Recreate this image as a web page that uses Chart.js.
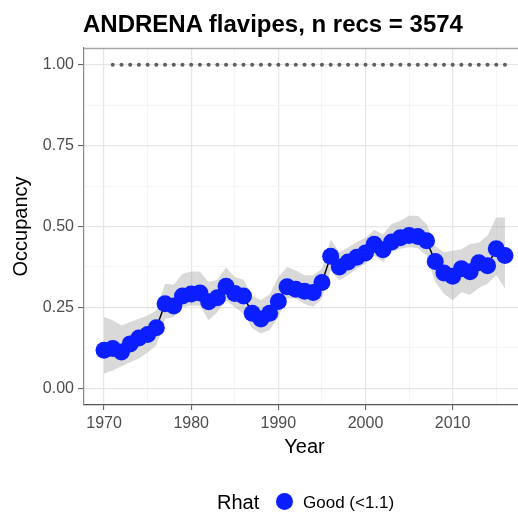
<!DOCTYPE html>
<html>
<head>
<meta charset="utf-8">
<script src="https://cdn.jsdelivr.net/npm/chart.js@4/dist/chart.umd.min.js"></script>
<style>
  html, body { margin:0; padding:0; width:518px; height:512px; overflow:hidden; background:#fff; }
  #wrap { position:absolute; left:0; top:0; width:525px; height:512px; }
  .txt { position:absolute; font-family:"Liberation Sans", Arial, sans-serif; white-space:nowrap; }
  #title { left:83px; top:12px; font-size:24px; line-height:24px; font-weight:bold; color:#000; }
  #legTitle { left:217px; top:492px; font-size:20px; line-height:20px; color:#000; }
  #legDot { position:absolute; left:276px; top:493px; width:17px; height:17px; border-radius:50%; background:#0a1eff; }
  #legText { left:303px; top:494px; font-size:17px; line-height:17px; color:#000; }
</style>
</head>
<body>
<div id="wrap"><canvas id="c" width="525" height="512"></canvas></div>
<div id="title" class="txt">ANDRENA flavipes, n recs = 3574</div>
<div id="legTitle" class="txt">Rhat</div>
<div id="legDot"></div>
<div id="legText" class="txt">Good (&lt;1.1)</div>
<script>
// ---- data ----
const years = [1970,1971,1972,1973,1974,1975,1976,1977,1978,1979,1980,1981,1982,1983,1984,1985,1986,1987,1988,1989,1990,1991,1992,1993,1994,1995,1996,1997,1998,1999,2000,2001,2002,2003,2004,2005,2006,2007,2008,2009,2010,2011,2012,2013,2014,2015,2016];
const occupancy = [0.117,0.123,0.112,0.137,0.155,0.166,0.187,0.261,0.254,0.285,0.291,0.294,0.267,0.280,0.315,0.293,0.285,0.232,0.214,0.232,0.268,0.314,0.306,0.300,0.296,0.327,0.408,0.375,0.390,0.405,0.418,0.445,0.428,0.452,0.465,0.472,0.469,0.456,0.392,0.356,0.346,0.369,0.360,0.388,0.379,0.431,0.410];
const lowerCI = [0.045,0.055,0.068,0.080,0.092,0.110,0.133,0.215,0.220,0.250,0.256,0.255,0.210,0.235,0.272,0.250,0.230,0.185,0.169,0.180,0.220,0.277,0.277,0.260,0.252,0.277,0.364,0.333,0.350,0.369,0.385,0.410,0.390,0.420,0.431,0.436,0.433,0.410,0.328,0.292,0.272,0.297,0.289,0.310,0.323,0.350,0.308];
const upperCI = [0.220,0.210,0.194,0.205,0.215,0.225,0.240,0.323,0.320,0.354,0.361,0.360,0.328,0.335,0.374,0.344,0.335,0.287,0.272,0.290,0.344,0.375,0.364,0.349,0.349,0.369,0.460,0.420,0.435,0.452,0.465,0.490,0.475,0.508,0.518,0.533,0.533,0.508,0.440,0.420,0.425,0.430,0.446,0.450,0.472,0.528,0.528];
const refYears = [1971,1972,1973,1974,1975,1976,1977,1978,1979,1980,1981,1982,1983,1984,1985,1986,1987,1988,1989,1990,1991,1992,1993,1994,1995,1996,1997,1998,1999,2000,2001,2002,2003,2004,2005,2006,2007,2008,2009,2010,2011,2012,2013,2014,2015,2016];
const refLevel = 1.0;
const xTicks = [1970,1975,1980,1985,1990,1995,2000,2005,2010,2015];
const xMajor = [1970,1980,1990,2000,2010];
const yTicks = [0,0.125,0.25,0.375,0.5,0.625,0.75,0.875,1];
const yMajor = [0,0.25,0.5,0.75,1];

const pts = (xs, ys) => xs.map((x,i)=>({x:x, y:ys[i]}));
const FONT = '"Liberation Sans", Arial, sans-serif';

const topBorder = {
  id:'topBorder',
  afterDraw(chart){
    const {ctx, chartArea:a} = chart;
    ctx.save();
    ctx.strokeStyle = '#a8a8a8';
    ctx.lineWidth = 1.5;
    ctx.beginPath();
    ctx.moveTo(a.left, a.top+0.5);
    ctx.lineTo(a.right, a.top+0.5);
    ctx.stroke();
    ctx.restore();
  }
};

const isMajorX = v => xMajor.includes(v);
const isMajorY = v => yMajor.some(m => Math.abs(m-v) < 1e-9);

new Chart(document.getElementById('c'), {
  type:'scatter',
  data:{
    datasets:[
      { label:'lower', data:pts(years, lowerCI), showLine:true, borderWidth:0, pointRadius:0, fill:false, borderColor:'rgba(0,0,0,0)', order:5, tension:0 },
      { label:'upper', data:pts(years, upperCI), showLine:true, borderWidth:0, pointRadius:0, fill:'-1', backgroundColor:'rgba(160,160,160,0.4)', borderColor:'rgba(0,0,0,0)', order:4, tension:0 },
      { label:'line', data:pts(years, occupancy), showLine:true, borderWidth:1.5, borderColor:'#000', pointRadius:0, fill:false, order:3, tension:0 },
      { label:'Good (<1.1)', data:pts(years, occupancy), showLine:false, pointRadius:8.5, pointBackgroundColor:'#0a1eff', pointBorderWidth:0, pointBorderColor:'#0a1eff', order:2 },
      { label:'ref', data:refYears.map(x=>({x:x, y:refLevel})), showLine:false, pointRadius:2, pointBackgroundColor:'#5e5e5e', pointBorderWidth:0, order:1 }
    ]
  },
  options:{
    responsive:false,
    devicePixelRatio:1,
    animation:false,
    layout:{ autoPadding:false, padding:{ left:0, right:0, top:48, bottom:47 } },
    plugins:{ legend:{display:false}, title:{display:false}, tooltip:{enabled:false} },
    scales:{
      x:{
        type:'linear', min:1967.7, max:2018.3,
        afterBuildTicks(axis){ axis.ticks = xTicks.map(v=>({value:v})); },
        afterFit(axis){ axis.height = 60; },
        ticks:{ autoSkip:false, maxRotation:0, padding:4, color:'#4d4d4d', font:{family:FONT, size:16},
                callback:(v)=> isMajorX(v) ? String(v) : '' },
        grid:{ drawTicks:true, tickLength:5,
               color:(c)=> isMajorX(c.tick && c.tick.value) ? '#e6e6e6' : '#f2f2f2',
               lineWidth:(c)=> isMajorX(c.tick && c.tick.value) ? 1.2 : 0.8,
               tickColor:(c)=> isMajorX(c.tick && c.tick.value) ? '#555' : 'rgba(0,0,0,0)',
               tickWidth:1 },
        border:{ display:true, color:'#555', width:1.2 },
        title:{ display:true, text:'Year', color:'#000', font:{family:FONT, size:20}, padding:{top:0, bottom:6} }
      },
      y:{
        type:'linear', min:-0.052, max:1.052,
        afterBuildTicks(axis){ axis.ticks = yTicks.map(v=>({value:v})); },
        afterFit(axis){ axis.width = 84; },
        ticks:{ autoSkip:false, padding:4, color:'#4d4d4d', font:{family:FONT, size:16},
                callback:(v)=> isMajorY(v) ? v.toFixed(2) : '' },
        grid:{ drawTicks:true, tickLength:6,
               color:(c)=> isMajorY(c.tick && c.tick.value) ? '#e6e6e6' : '#f2f2f2',
               lineWidth:(c)=> isMajorY(c.tick && c.tick.value) ? 1.2 : 0.8,
               tickColor:(c)=> isMajorY(c.tick && c.tick.value) ? '#555' : 'rgba(0,0,0,0)',
               tickWidth:1 },
        border:{ display:true, color:'#888', width:1.2 },
        title:{ display:true, text:'Occupancy', color:'#000', font:{family:FONT, size:20}, padding:{top:9, bottom:0} }
      }
    }
  },
  plugins:[topBorder]
});
</script>
</body>
</html>
